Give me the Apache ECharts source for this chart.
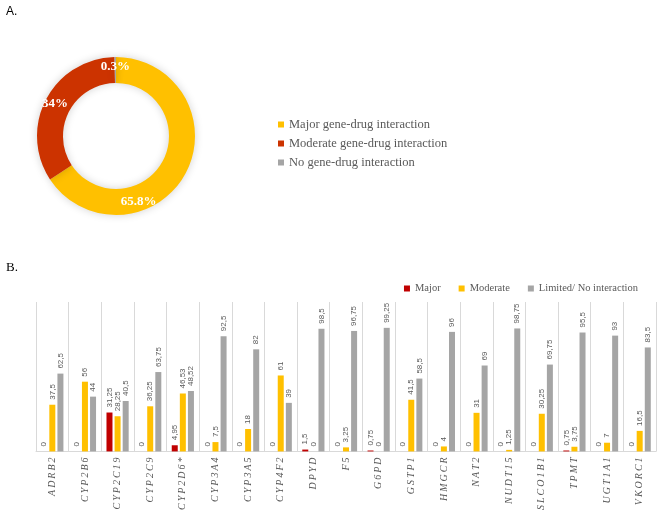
<!DOCTYPE html>
<html lang="en">
<head>
    <meta charset="UTF-8">
    <title>Gene-drug interactions</title>
    <script type="text/javascript" src="https://cdn.jsdelivr.net/npm/echarts@6/dist/echarts.min.js"></script>
</head>
<body style="margin:0">
<div id="main" style="width: 659px;height: 513px"></div>

<script>
    // panel A - doughnut
    var pieNames = ['Major gene-drug interaction', 'Moderate gene-drug interaction', 'No gene-drug interaction'];
    var pieValues = [65.8, 34, 0.3];

    // panel B - bars per gene
    var genes = ['ADRB2', 'CYP2B6', 'CYP2C19', 'CYP2C9', 'CYP2D6*', 'CYP3A4', 'CYP3A5', 'CYP4F2', 'DPYD', 'F5',
        'G6PD', 'GSTP1', 'HMGCR', 'NAT2', 'NUDT15', 'SLCO1B1', 'TPMT', 'UGT1A1', 'VKORC1'];
    var major = [0, 0, 31.25, 0, 4.95, 0, 0, 0, 1.5, 0, 0.75, 0, 0, 0, 0, 0, 0.75, 0, 0];
    var moderate = [37.5, 56, 28.25, 36.25, 46.53, 7.5, 18, 61, 0, 3.25, 0, 41.5, 4, 31, 1.25, 30.25, 3.75, 7, 16.5];
    var limited = [62.5, 44, 40.5, 63.75, 48.52, 92.5, 82, 39, 98.5, 96.75, 99.25, 58.5, 96, 69, 98.75, 69.75, 95.5, 93, 83.5];
    var barNames = ['Major', 'Moderate', 'Limited/ No interaction'];

    var chartDom = document.getElementById('main');
    var myChart = echarts.init(chartDom);
    var option;

    var pieColors = ['#FFC000', '#CC3300', '#A5A5A5'];
    var barColors = ['#C00000', '#FFC000', '#A5A5A5'];
    var serif = '"Liberation Serif", "DejaVu Serif", serif';

    function barLabel() {
        return {
            show: true,
            position: 'top',
            rotate: 90,
            align: 'left',
            verticalAlign: 'middle',
            distance: 5,
            fontSize: 8,
            color: '#595959',
            fontFamily: '"Liberation Sans", Arial, sans-serif',
            formatter: function (p) {
                return String(p.value).replace('.', ',');
            }
        };
    }

    var barData = [major, moderate, limited];
    var barSeries = barData.map(function (arr, i) {
        return {
            name: barNames[i],
            type: 'bar',
            xAxisIndex: 0,
            yAxisIndex: 0,
            barWidth: 6,
            barGap: '35%',
            itemStyle: {color: barColors[i]},
            label: barLabel(),
            data: arr
        };
    });

    option = {
        animation: false,
        title: [
            {text: 'A.', left: 1, top: 1, textStyle: {fontSize: 12, fontWeight: 'normal', color: '#000', fontFamily: '"Liberation Sans", Arial, sans-serif'}},
            {text: 'B.', left: 1, top: 256, textStyle: {fontSize: 13, fontWeight: 'normal', color: '#000', fontFamily: serif}}
        ],
        legend: [
            {
                orient: 'vertical',
                left: 273,
                top: 113,
                itemWidth: 6,
                itemHeight: 6,
                itemGap: 6,
                icon: 'rect',
                data: pieNames,
                textStyle: {fontSize: 12.5, color: '#595959', fontFamily: serif}
            },
            {
                orient: 'horizontal',
                right: 16,
                top: 278,
                itemWidth: 6,
                itemHeight: 6,
                itemGap: 18,
                icon: 'rect',
                data: barNames,
                textStyle: {fontSize: 10.5, color: '#595959', fontFamily: serif}
            }
        ],
        grid: {
            left: 36,
            right: 3,
            top: 302,
            bottom: 55
        },
        xAxis: {
            type: 'category',
            data: genes,
            axisLine: {lineStyle: {color: '#D9D9D9'}},
            axisTick: {show: false},
            splitLine: {show: true, interval: 0, lineStyle: {color: '#D9D9D9'}},
            axisLabel: {
                interval: 0,
                rotate: 90,
                margin: 6,
                fontSize: 10,
                fontStyle: 'italic',
                color: '#595959',
                fontFamily: serif,
                formatter: function (v) {
                    return v.split('').join('\u2009');
                }
            }
        },
        yAxis: {
            type: 'value',
            min: 0,
            max: 120,
            show: false,
            splitLine: {show: false}
        },
        series: [
            {
                name: 'Interaction',
                type: 'pie',
                center: [116, 136],
                radius: [53, 79],
                startAngle: 90,
                clockwise: true,
                itemStyle: {shadowBlur: 8, shadowColor: 'rgba(0,0,0,0.18)'},
                label: {
                    show: true,
                    position: 'inside',
                    color: '#fff',
                    fontWeight: 'bold',
                    fontSize: 13,
                    fontFamily: serif,
                    formatter: function (p) {
                        return p.value + '%';
                    }
                },
                labelLayout: function (p) {
                    if (p.dataIndex === 0) {
                        return {dx: -38, dy: 33};
                    }
                },
                labelLine: {show: false},
                data: pieNames.map(function (n, i) {
                    return {name: n, value: pieValues[i], itemStyle: {color: pieColors[i]}};
                })
            }
        ].concat(barSeries)
    };

    myChart.setOption(option);
</script>
</body>
</html>
